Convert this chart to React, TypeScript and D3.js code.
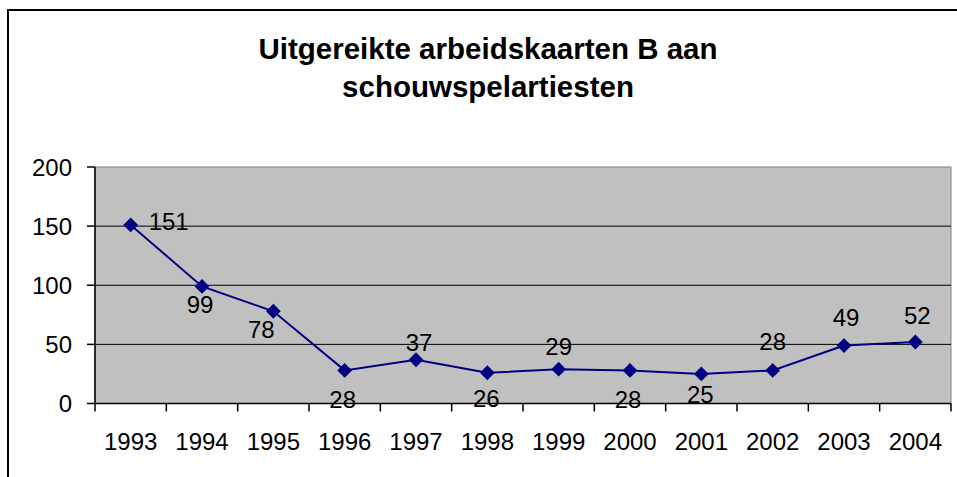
import React from "react";
import { scaleBand, scaleLinear, line, symbol, symbolSquare } from "d3";

// chart data
const years = ["1993", "1994", "1995", "1996", "1997", "1998", "1999", "2000", "2001", "2002", "2003", "2004"];
const values = [151, 99, 78, 28, 37, 26, 29, 28, 25, 28, 49, 52];
const yTicks = [0, 50, 100, 150, 200];
const titleLines = ["Uitgereikte arbeidskaarten B aan", "schouwspelartiesten"];

// where each value label sits relative to its marker (dx, dy of label centre)
const labelOffsets: [number, number][] = [
  [38, -3], [-2, 18], [-12, 18], [-2, 29], [3, -17], [-1, 26],
  [0, -23], [-2, 29], [-1, 21], [0, -29], [2, -28], [2, -27],
];

const width = 957;
const height = 477;
const plot = { left: 95, right: 951, top: 167, bottom: 403.5 };
const font = "'Liberation Sans', Arial, sans-serif";
const fs = 24;

const x = scaleBand<string>().domain(years).range([plot.left, plot.right]);
const y = scaleLinear().domain([0, 200]).range([plot.bottom, plot.top]);

const cx = (i: number) => (x(years[i]) ?? 0) + x.bandwidth() / 2;

const path = line<number>()
  .x((_, i) => cx(i))
  .y((d) => y(d))(values);

// rotated square = excel diamond marker
const diamond = symbol().type(symbolSquare).size(110)();

const App = () => {
  const boundaries = years.map((yr) => x(yr) ?? 0).concat([plot.right]);
  return (
    <svg
      width={width}
      height={height}
      style={{ position: "absolute", left: 0, top: 0, background: "#fff" }}
      fontFamily={font}
    >
      {/* chart frame */}
      <rect x={8} y={10} width={1000} height={1000} fill="#fff" stroke="#000" strokeWidth={2} />

      {/* title */}
      {titleLines.map((t, i) => (
        <text key={t} x={488} y={59 + i * 38} textAnchor="middle" fontSize={29.5} fontWeight="bold">
          {t}
        </text>
      ))}

      {/* plot area */}
      <rect
        x={plot.left}
        y={plot.top}
        width={plot.right - plot.left}
        height={plot.bottom - plot.top}
        fill="#C0C0C0"
        stroke="#808080"
        strokeWidth={1}
      />

      {/* gridlines */}
      {yTicks.slice(1, -1).map((t) => (
        <line key={t} x1={plot.left} x2={plot.right} y1={y(t)} y2={y(t)} stroke="#000" strokeWidth={1} />
      ))}

      {/* y axis */}
      <line x1={plot.left} x2={plot.left} y1={plot.top} y2={plot.bottom} stroke="#000" strokeWidth={1.5} />
      {yTicks.map((t) => (
        <g key={t}>
          <line x1={plot.left - 8} x2={plot.left} y1={y(t)} y2={y(t)} stroke="#000" strokeWidth={1.5} />
          <text x={72} y={y(t) + 8.5} textAnchor="end" fontSize={fs}>
            {t}
          </text>
        </g>
      ))}

      {/* x axis */}
      <line x1={plot.left} x2={plot.right} y1={plot.bottom} y2={plot.bottom} stroke="#000" strokeWidth={1.5} />
      {boundaries.map((b, i) => (
        <line key={i} x1={b} x2={b} y1={plot.bottom} y2={plot.bottom + 8} stroke="#000" strokeWidth={1.5} />
      ))}
      {years.map((yr, i) => (
        <text key={yr} x={cx(i)} y={450} textAnchor="middle" fontSize={fs}>
          {yr}
        </text>
      ))}

      {/* series */}
      <path d={path ?? ""} fill="none" stroke="#000080" strokeWidth={2} />
      {values.map((v, i) => (
        <path
          key={i}
          d={diamond ?? ""}
          transform={`translate(${cx(i)},${y(v)}) rotate(45)`}
          fill="#000080"
        />
      ))}

      {/* value labels */}
      {values.map((v, i) => (
        <text
          key={i}
          x={cx(i) + labelOffsets[i][0]}
          y={y(v) + labelOffsets[i][1] + 8.5}
          textAnchor="middle"
          fontSize={fs}
        >
          {v}
        </text>
      ))}
    </svg>
  );
};

export default App;
